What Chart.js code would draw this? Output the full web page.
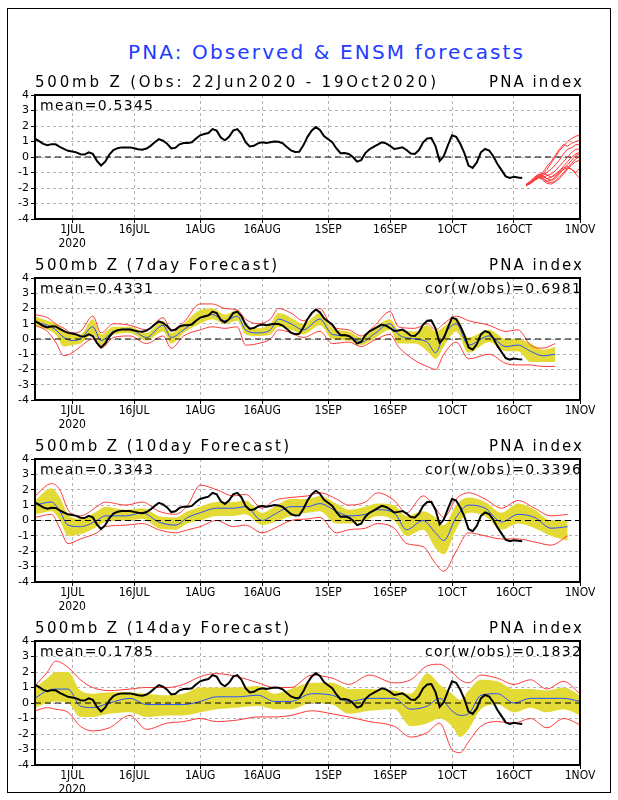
<!DOCTYPE html>
<html>
<head>
<meta charset="utf-8">
<title>PNA: Observed &amp; ENSM forecasts</title>
<script src="https://cdn.jsdelivr.net/npm/chart.js@4.4.0/dist/chart.umd.min.js"></script>
<style>
    html, body { margin: 0; padding: 0; background: #fff; }
    #page { position: relative; width: 618px; height: 800px; overflow: hidden; font-family: 'DejaVu Sans', sans-serif; color: #000; }
    #frame { position: absolute; left: 7px; top: 8px; width: 602px; height: 783px; border: 1px solid #000; }
    .txt { position: absolute; white-space: nowrap; line-height: 1; }
    canvas { position: absolute; left: 0; }
</style>
</head>
<body>
<div id="page"><div id="frame"></div></div>
<script>
// x axis = days since 22 Jun 2020 (132 = 1 Nov)
var tickDays = [9, 24, 40, 55, 71, 86, 101, 116, 132];
var tickLabels = ['1JUL', '16JUL', '1AUG', '16AUG', '1SEP', '16SEP', '1OCT', '16OCT', '1NOV'];
var yearLabel = '2020';

// observed PNA index, daily from 22 Jun
var obs = [
    1.18, 1.02, 0.85, 0.76, 0.83, 0.82, 0.66, 0.52, 0.40, 0.36,
    0.30, 0.18, 0.16, 0.30, 0.20, -0.25, -0.55, -0.30, 0.15, 0.45,
    0.57, 0.62, 0.62, 0.62, 0.56, 0.50, 0.47, 0.55, 0.72, 0.95,
    1.15, 1.05, 0.85, 0.55, 0.60, 0.82, 0.90, 0.90, 0.95, 1.20,
    1.40, 1.48, 1.55, 1.80, 1.70, 1.25, 1.08, 1.30, 1.70, 1.80,
    1.50, 0.95, 0.68, 0.72, 0.88, 0.95, 0.90, 0.95, 1.00, 0.98,
    0.88, 0.65, 0.42, 0.32, 0.34, 0.75, 1.30, 1.70, 1.94, 1.75,
    1.35, 1.15, 0.95, 0.55, 0.25, 0.26, 0.20, 0.00, -0.30, -0.20,
    0.25, 0.50, 0.65, 0.80, 0.95, 0.88, 0.72, 0.52, 0.56, 0.62,
    0.45, 0.22, 0.20, 0.45, 0.95, 1.20, 1.22, 0.70, -0.25, 0.05,
    0.75, 1.40, 1.30, 0.85, 0.25, -0.55, -0.70, -0.35, 0.30, 0.52,
    0.42, 0.05, -0.45, -0.85, -1.25, -1.35, -1.28, -1.32, -1.35
];

// ensemble forecast members from 19 Oct
var ensDays = [119, 120, 121, 122, 123, 124, 125, 126, 127, 128, 129, 130, 131, 132];
var ensMembers = [
    [-1.80, -1.70, -1.45, -1.25, -1.10, -0.80, -0.40, 0.00, 0.40, 0.70, 1.00, 1.20, 1.35, 1.40],
    [-1.75, -1.60, -1.40, -1.20, -1.00, -0.60, -0.30, 0.10, 0.50, 0.80, 0.70, 0.90, 1.00, 1.10],
    [-1.80, -1.65, -1.40, -1.15, -1.20, -1.00, -0.80, -0.50, -0.20, 0.20, 0.50, 0.60, 0.80, 0.80],
    [-1.85, -1.70, -1.50, -1.30, -1.30, -1.20, -1.10, -0.90, -0.60, -0.30, 0.00, 0.30, 0.50, 0.50],
    [-1.80, -1.60, -1.35, -1.15, -1.05, -1.15, -1.30, -1.20, -0.90, -0.60, -0.30, 0.00, 0.20, 0.30],
    [-1.75, -1.55, -1.30, -1.10, -1.20, -1.40, -1.50, -1.40, -1.10, -0.80, -0.50, -0.20, 0.10, 0.20],
    [-1.80, -1.70, -1.50, -1.35, -1.40, -1.60, -1.65, -1.55, -1.30, -1.00, -0.70, -0.40, -0.10, 0.00],
    [-1.85, -1.70, -1.45, -1.30, -1.50, -1.70, -1.75, -1.60, -1.40, -1.10, -0.80, -0.50, -0.30, -0.20],
    [-1.80, -1.65, -1.45, -1.25, -1.35, -1.55, -1.50, -1.30, -1.00, -0.80, -0.70, -0.80, -1.00, -0.70],
    [-1.80, -1.70, -1.50, -1.30, -1.25, -1.40, -1.30, -1.10, -0.90, -0.70, -0.60, -0.80, -1.10, -1.40]
];

// 7-day forecasts
var p7Days = [0, 3, 5, 7, 9, 11, 14, 16, 19, 23, 27, 31, 33, 36, 40, 43, 46, 49, 51, 54, 57, 59, 62, 65, 69, 72, 76, 79, 82, 86, 88, 92, 95, 97, 99, 102, 105, 110, 114, 117, 120, 123, 126];
var p7Mean = [1.1, 0.9, 0.6, 0.1, -0.1, 0.0, 0.8, -0.1, 0.5, 0.65, 0.1, 0.9, 0.1, 0.6, 1.4, 1.6, 1.2, 1.5, 0.6, 0.4, 0.6, 1.3, 1.0, 0.6, 1.3, 0.3, 0.2, -0.2, 0.3, 1.0, 0.3, 0.0, -0.2, -0.9, 0.2, 1.0, -0.4, 0.2, -0.5, -0.4, -0.8, -1.1, -1.0];
var p7SprHi = [1.5, 1.2, 1.0, 0.6, 0.3, 0.3, 1.3, 0.3, 0.8, 0.8, 0.4, 1.2, 0.4, 1.0, 1.9, 2.0, 1.6, 1.9, 0.9, 0.7, 1.0, 1.7, 1.4, 1.0, 1.7, 0.7, 0.5, 0.1, 0.7, 1.3, 0.6, 0.5, 0.9, 0.5, 0.8, 1.4, 0.1, 0.6, 0.0, 0.0, -0.3, -0.7, -0.5];
var p7SprLo = [0.9, 0.6, 0.3, -0.5, -0.4, -0.3, 0.3, -0.4, 0.3, 0.4, -0.1, 0.5, -0.3, 0.4, 1.0, 1.3, 1.0, 1.2, 0.3, 0.2, 0.3, 0.8, 0.6, 0.3, 0.9, 0.0, -0.1, -0.4, 0.0, 0.6, -0.3, -0.3, -0.8, -1.3, -0.5, 0.5, -0.9, -0.2, -0.8, -0.8, -1.5, -1.5, -1.5];
var p7Max = [1.6, 1.4, 1.0, 0.7, 0.4, 0.5, 1.5, 0.4, 1.0, 0.9, 0.6, 1.4, 0.6, 1.1, 2.3, 2.3, 2.0, 1.9, 1.3, 1.0, 1.3, 2.0, 1.7, 1.2, 2.0, 0.8, 0.6, 0.2, 0.8, 1.8, 0.8, 0.7, 1.0, 0.6, 1.0, 1.5, 1.2, 0.9, 0.5, 0.6, -0.4, -0.6, -0.3];
var p7Min = [0.9, 0.5, -0.2, -1.1, -0.9, -0.5, 0.0, -0.6, 0.1, 0.2, -0.3, 0.2, -0.6, 0.2, 0.6, 0.8, 0.7, 0.8, -0.4, -0.3, 0.0, 0.6, 0.4, 0.1, 0.5, -0.3, -0.2, -0.5, -0.1, 0.3, -0.5, -1.4, -1.8, -2.0, -1.0, -0.2, -1.3, -1.0, -1.6, -1.7, -1.7, -1.8, -1.8];

// 10-day forecasts
var p10Days = [0, 4, 6, 8, 11, 15, 17, 22, 26, 30, 34, 37, 40, 44, 48, 51, 55, 58, 62, 66, 69, 73, 76, 80, 83, 87, 90, 94, 97, 99, 102, 105, 109, 113, 117, 121, 125, 129];
var p10Mean = [1.0, 1.2, 0.6, -0.3, -0.4, 0.0, 0.3, 0.3, 0.5, -0.1, -0.3, 0.2, 0.5, 0.8, 0.8, 0.9, 0.0, 0.4, 0.9, 0.9, 1.1, 0.6, 0.3, 0.4, 0.7, 0.5, -0.6, 0.0, -0.8, -1.3, 0.2, 1.0, 0.8, -0.1, 0.4, 0.2, -0.5, -0.4];
var p10SprHi = [1.3, 2.1, 1.5, 0.4, 0.1, 0.6, 0.9, 0.7, 0.8, 0.3, 0.2, 0.6, 0.9, 1.2, 1.2, 1.3, 0.5, 0.9, 1.4, 1.4, 1.6, 1.1, 0.7, 0.9, 1.1, 1.0, 0.3, 0.6, 0.2, -0.3, 1.0, 1.5, 1.2, 0.5, 1.1, 0.7, 0.0, 0.0];
var p10SprLo = [0.4, 0.6, 0.0, -1.0, -0.9, -0.4, -0.1, 0.0, 0.1, -0.5, -0.6, -0.2, 0.0, 0.3, 0.3, 0.4, -0.3, -0.1, 0.3, 0.5, 0.6, -0.2, -0.2, 0.0, 0.3, 0.0, -1.0, -0.6, -1.8, -2.2, -0.6, 0.5, 0.3, -0.6, -0.2, -0.5, -1.0, -1.3];
var p10Max = [1.6, 2.4, 2.0, 0.7, 0.3, 0.9, 1.2, 1.0, 1.2, 0.6, 0.4, 1.0, 2.3, 2.0, 1.6, 1.7, 0.8, 1.3, 1.5, 1.6, 1.8, 1.4, 1.0, 1.2, 1.8, 1.3, 0.5, 1.6, 0.8, 0.2, 1.4, 1.8, 1.4, 0.8, 1.3, 0.8, 0.3, 0.4];
var p10Min = [0.2, 0.4, -0.5, -1.5, -1.2, -0.8, -0.4, -0.3, -0.2, -0.6, -0.8, -0.6, -0.4, 0.0, -0.4, -0.3, -0.8, -0.5, 0.0, 0.1, 0.2, -0.8, -0.6, -0.5, -0.2, -0.5, -1.5, -1.7, -2.8, -3.3, -2.0, -0.8, -1.0, -1.2, -1.2, -1.4, -1.6, -1.0];

// 14-day forecasts
var p14Days = [0, 3, 5, 8, 11, 14, 18, 23, 27, 32, 36, 40, 44, 49, 54, 58, 62, 67, 72, 76, 81, 87, 91, 95, 98, 101, 103, 105, 108, 112, 116, 120, 124, 128, 132];
var p14Mean = [0.3, 0.8, 0.9, 0.9, -0.2, -0.3, 0.0, 0.3, -0.1, -0.1, -0.1, 0.1, 0.4, 0.4, 0.5, 0.1, 0.1, 0.6, 0.5, 0.1, 0.3, 0.3, -0.4, -0.2, 0.3, -0.5, -0.8, -0.7, 0.5, 0.6, 0.0, 0.3, 0.3, 0.3, 0.1];
var p14SprHi = [1.0, 1.6, 2.0, 2.0, 0.8, 0.6, 0.7, 0.7, 0.6, 0.5, 0.6, 1.0, 1.0, 1.0, 1.1, 0.6, 0.9, 1.3, 1.3, 0.9, 0.9, 0.8, 0.6, 1.9, 1.2, 0.6, 0.2, 0.8, 1.5, 1.4, 0.9, 0.9, 0.8, 1.0, 0.5];
var p14SprLo = [-0.3, 0.0, 0.1, 0.0, -0.9, -0.9, -0.7, -0.6, -0.9, -0.8, -0.8, -0.6, -0.4, -0.3, -0.2, -0.4, -0.4, 0.0, -0.1, -0.7, -0.5, -0.4, -1.5, -1.3, -1.0, -1.5, -2.2, -1.7, -0.4, -0.1, -0.6, -0.3, -0.6, -0.4, -0.8];
var p14Max = [1.1, 2.0, 2.7, 2.3, 1.5, 1.0, 0.8, 0.9, 1.0, 1.0, 1.2, 1.7, 1.9, 1.7, 1.3, 1.0, 1.0, 1.8, 1.6, 1.2, 1.8, 1.3, 1.5, 2.4, 2.5, 2.0, 1.5, 1.3, 1.8, 1.6, 1.2, 1.5, 0.9, 1.4, 0.6];
var p14Min = [-0.5, -0.3, -0.4, -0.6, -1.5, -1.8, -1.6, -0.8, -1.7, -1.3, -1.2, -1.0, -1.2, -1.1, -0.9, -0.9, -0.8, -0.5, -0.7, -0.9, -1.2, -1.5, -2.2, -1.9, -1.3, -3.0, -3.2, -2.5, -1.5, -1.2, -1.3, -1.0, -1.6, -1.0, -1.4];

var page = document.getElementById('page');
var YELLOW = '#e4da35';
var RED = '#ff3838';
var BLUE = '#2850ff';
var tickFont = "'Liberation Sans Narrow', 'DejaVu Sans Condensed', sans-serif";

function pts(xs, ys) {
    return ys.map(function (y, i) { return { x: xs[i], y: y }; });
}

function obsSet() {
    return {
        data: obs.map(function (v, i) { return { x: i, y: v }; }),
        borderColor: '#000', borderWidth: 2
    };
}

function zeroSet() {
    return {
        data: [{ x: 0, y: 0 }, { x: 132, y: 0 }],
        borderColor: '#000', borderWidth: 1.2, borderDash: [6, 4]
    };
}

function forecastSets(days, mean, hi, lo, mx, mn) {
    var smooth = { cubicInterpolationMode: 'monotone' };
    return [
        obsSet(),
        zeroSet(),
        Object.assign({ data: pts(days, mean), borderColor: BLUE, borderWidth: 1 }, smooth),
        Object.assign({ data: pts(days, mx), borderColor: RED, borderWidth: 1 }, smooth),
        Object.assign({ data: pts(days, mn), borderColor: RED, borderWidth: 1 }, smooth),
        Object.assign({ data: pts(days, hi), borderWidth: 0, backgroundColor: YELLOW, fill: '+1' }, smooth),
        Object.assign({ data: pts(days, lo), borderWidth: 0, fill: false }, smooth)
    ];
}

var boxPlugin = {
    id: 'box',
    afterDraw: function (c) {
        var a = c.chartArea, ctx = c.ctx;
        ctx.save();
        ctx.strokeStyle = '#000';
        ctx.lineWidth = 2;
        ctx.strokeRect(a.left, a.top, a.right - a.left, a.bottom - a.top);
        ctx.restore();
    }
};

function makePanel(plotTop, plotH, datasets) {
    var pad = 10, axisH = 36;
    var canvas = document.createElement('canvas');
    canvas.width = 618;
    canvas.height = pad + plotH + axisH;
    canvas.style.top = (plotTop - pad) + 'px';
    page.appendChild(canvas);

    var grid = { color: '#b4b4b4', lineWidth: 1, tickLength: 4, tickColor: '#000', tickWidth: 1 };
    new Chart(canvas.getContext('2d'), {
        type: 'line',
        data: { datasets: datasets },
        options: {
            responsive: false,
            animation: false,
            events: [],
            layout: { padding: { top: pad, right: 38, left: 0, bottom: 0 } },
            plugins: { legend: { display: false }, tooltip: { enabled: false } },
            elements: { point: { radius: 0 }, line: { tension: 0 } },
            scales: {
                x: {
                    type: 'linear', min: 0, max: 132,
                    afterBuildTicks: function (s) {
                        s.ticks = tickDays.map(function (d) { return { value: d }; });
                    },
                    afterFit: function (s) { s.height = axisH; },
                    border: { display: false, dash: [3, 3] },
                    grid: grid,
                    ticks: {
                        autoSkip: false, maxRotation: 0, padding: 0, color: '#000',
                        font: { family: tickFont, size: 12, lineHeight: 1.15 },
                        callback: function (v, i) {
                            return i === 0 ? [tickLabels[i], yearLabel] : tickLabels[i];
                        }
                    }
                },
                y: {
                    min: -4, max: 4,
                    afterFit: function (s) { s.width = 35; },
                    border: { display: false, dash: [3, 3] },
                    grid: grid,
                    ticks: {
                        stepSize: 1, autoSkip: false, padding: 2, color: '#000',
                        font: { family: "'DejaVu Sans', sans-serif", size: 11 }
                    }
                }
            }
        },
        plugins: [boxPlugin]
    });
}

function addText(str, x, baseline, size, width, align, color) {
    var el = document.createElement('div');
    el.className = 'txt';
    el.textContent = str;
    el.style.fontSize = size + 'px';
    el.style.color = color || '#000';
    page.appendChild(el);
    var w0 = el.getBoundingClientRect().width;
    var ls = (width - w0) / (str.length - 1);
    el.style.letterSpacing = ls + 'px';
    el.style.left = (align === 'right' ? x - width : x) + 'px';
    el.style.top = (baseline - 0.846 * size) + 'px';
}

var panels = [
    { top: 95, h: 124, sub: '500mb Z (Obs: 22Jun2020 - 19Oct2020)', subW: 401, mean: 'mean=0.5345', cor: null },
    { top: 278, h: 122, sub: '500mb Z (7day Forecast)', subW: 242, mean: 'mean=0.4331', cor: 'cor(w/obs)=0.6981' },
    { top: 459, h: 123, sub: '500mb Z (10day Forecast)', subW: 254, mean: 'mean=0.3343', cor: 'cor(w/obs)=0.3396' },
    { top: 641, h: 124, sub: '500mb Z (14day Forecast)', subW: 254, mean: 'mean=0.1785', cor: 'cor(w/obs)=0.1832' }
];

var p1Sets = [obsSet()];
ensMembers.forEach(function (m) {
    p1Sets.push({ data: pts(ensDays, m), borderColor: RED, borderWidth: 1 });
});
p1Sets.push(zeroSet());

makePanel(panels[0].top, panels[0].h, p1Sets);
makePanel(panels[1].top, panels[1].h, forecastSets(p7Days, p7Mean, p7SprHi, p7SprLo, p7Max, p7Min));
makePanel(panels[2].top, panels[2].h, forecastSets(p10Days, p10Mean, p10SprHi, p10SprLo, p10Max, p10Min));
makePanel(panels[3].top, panels[3].h, forecastSets(p14Days, p14Mean, p14SprHi, p14SprLo, p14Max, p14Min));

addText('PNA: Observed & ENSM forecasts', 128, 59, 20, 395, 'left', '#1e3cff');
panels.forEach(function (p) {
    addText(p.sub, 35, p.top - 7, 15, p.subW, 'left');
    addText('PNA index', 582, p.top - 7, 15, 93, 'right');
    addText(p.mean, 40, p.top + 15, 14, 113, 'left');
    if (p.cor) {
        addText(p.cor, 581, p.top + 15, 14, 156, 'right');
    }
});
</script>
</body>
</html>
